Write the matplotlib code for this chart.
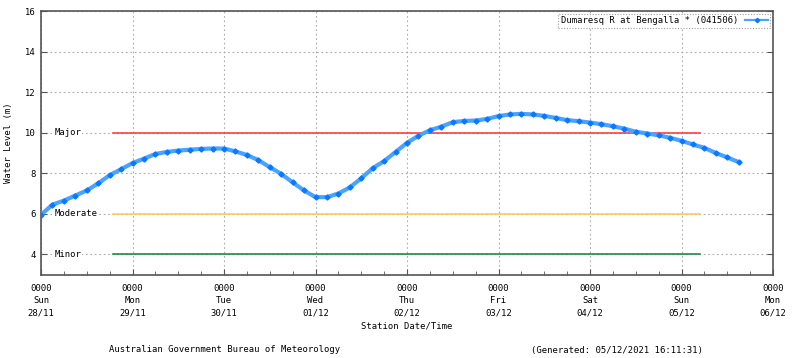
import matplotlib
matplotlib.use('Agg')
import matplotlib.pyplot as plt
import numpy as np

# 数据 (days since 0000 Sun 28/11, 3-hourly readings)
days = np.arange(62) * 0.125
level = [5.95, 6.45, 6.65, 6.9, 7.15, 7.5, 7.9, 8.2, 8.5, 8.72,
         8.95, 9.05, 9.12, 9.16, 9.2, 9.22, 9.22, 9.08, 8.9, 8.65,
         8.3, 7.97, 7.55, 7.15, 6.82, 6.82, 7.0, 7.3, 7.75, 8.25,
         8.6, 9.05, 9.5, 9.85, 10.12, 10.3, 10.52, 10.58, 10.6, 10.68,
         10.82, 10.9, 10.93, 10.9, 10.83, 10.73, 10.62, 10.57, 10.5, 10.42,
         10.32, 10.2, 10.05, 9.96, 9.87, 9.75, 9.6, 9.42, 9.25, 9.0,
         8.78, 8.55]

tick_days = ['Sun', 'Mon', 'Tue', 'Wed', 'Thu', 'Fri', 'Sat', 'Sun', 'Mon']
tick_dates = ['28/11', '29/11', '30/11', '01/12', '02/12', '03/12', '04/12', '05/12', '06/12']

flood_names = ['Major', 'Moderate', 'Minor']
flood_levels = [10, 6, 4]
flood_colors = ['#ff3030', '#ffc850', '#108040']
flood_start, flood_end = 0.79, 7.2

plt.rcParams['font.family'] = 'DejaVu Sans Mono'
plt.rcParams['font.size'] = 6.4

fig = plt.figure(figsize=(8, 3.58), dpi=100)
ax = fig.add_axes([0.05125, 0.233, 0.915, 0.736])

# 洪水等级线
for name, lv, c in zip(flood_names, flood_levels, flood_colors):
    ax.plot([flood_start, flood_end], [lv, lv], color=c, lw=1.1, zorder=2)
    ax.text(0.15, lv, name, ha='left', va='center',
            bbox=dict(facecolor='white', edgecolor='none', pad=0.5), zorder=3)

# 水位曲线
ax.plot(days, level, color='#4aa3ff', lw=3.0, marker='D', ms=2.6,
        markerfacecolor='#0a78ff', markeredgecolor='#0a78ff', zorder=4,
        label='Dumaresq R at Bengalla * (041506)')

ax.set_xlim(0, 8)
ax.set_ylim(3, 16)
ax.set_yticks(range(4, 17, 2))
ax.set_xticks(range(9))
ax.set_xticks(np.arange(0, 8, 0.25), minor=True)
ax.set_xticklabels(['0000\n%s\n%s' % (d, t) for d, t in zip(tick_days, tick_dates)],
                   linespacing=1.45)
ax.tick_params(axis='both', which='both', direction='in', color='#555555')
ax.tick_params(axis='y', right=True, length=4)
ax.tick_params(axis='x', which='major', length=4, pad=7)
ax.tick_params(axis='x', which='minor', length=3)
ax.grid(True, which='major', color='#aaaaaa', ls=(0, (1.5, 2.5)), lw=0.8, zorder=0)
for s in ax.spines.values():
    s.set_color('#555555')
    s.set_linewidth(1.2)

ax.set_ylabel('Water Level (m)', labelpad=9)
ax.set_xlabel('Station Date/Time', labelpad=3)

leg = ax.legend(loc='upper right', handlelength=2.5, borderaxespad=0.3,
                fancybox=False, markerfirst=False, borderpad=0.3)
leg.get_frame().set_edgecolor('#888888')
leg.get_frame().set_linestyle((0, (1, 1.5)))
leg.get_frame().set_linewidth(0.8)
for h in leg.get_lines():
    h.set_linewidth(1.6)
    h.set_markersize(2.2)

fig.text(225 / 800, 1 - 350 / 358, 'Australian Government Bureau of Meteorology',
         ha='center', va='center')
fig.text(617 / 800, 1 - 350 / 358, '(Generated: 05/12/2021 16:11:31)',
         ha='center', va='center')

plt.savefig('out.png', dpi=100)
